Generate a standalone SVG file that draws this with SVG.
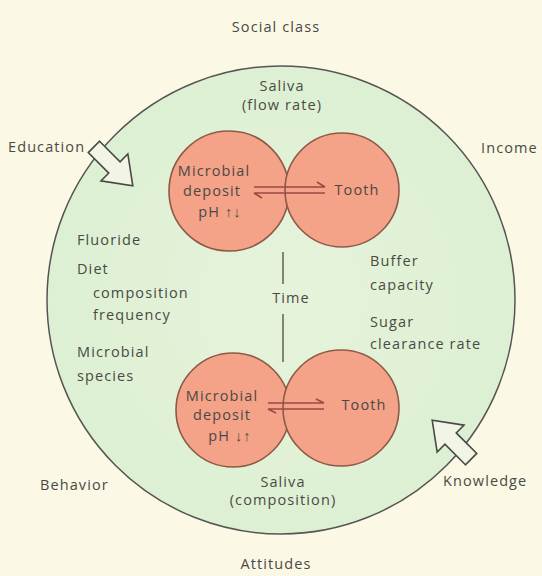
<svg xmlns="http://www.w3.org/2000/svg" width="542" height="576" viewBox="0 0 542 576">
<defs>
<style>
text{font-family:"Open Sans","Noto Sans",sans-serif;font-size:14.5px;letter-spacing:1.1px;fill:#4a4a44}
.c{text-anchor:middle}
.lobe{fill:#f4a288;stroke:#8e5a48;stroke-width:1.6}
.ln{stroke:#4a4a44;stroke-width:1.3;fill:none}
.eq{stroke:#9a4a44;stroke-width:1.6;fill:none}
.harrow{fill:#f2f5e6;stroke:#4a4a44;stroke-width:1.6;stroke-linejoin:miter}
</style>
<radialGradient id="bg" cx="0.5" cy="0.5" r="0.5">
<stop offset="0" stop-color="#e6f3db"/>
<stop offset="1" stop-color="#ddf0d3"/>
</radialGradient>
<path id="ha" d="M-27,-8 L2,-8 L2,-19 L28,0 L2,19 L2,8 L-27,8 Z"/>
</defs>
<rect width="542" height="576" fill="#fbf8e6"/>
<g id="outer">
<circle cx="281" cy="300" r="234" fill="url(#bg)" stroke="#555" stroke-width="1.5"/>
</g>
<g id="connectors">
<line class="ln" x1="283" y1="252" x2="283" y2="284"/>
<line class="ln" x1="283" y1="314" x2="283" y2="362"/>
<use href="#ha" class="harrow" transform="translate(113,166) rotate(45)"/>
<use href="#ha" class="harrow" transform="translate(452,440) rotate(-135)"/>
</g>
<g id="deposit-top">
<circle class="lobe" cx="229" cy="191" r="60"/>
<text class="c" x="214" y="176">Microbial</text>
<text class="c" x="212" y="196">deposit</text>
<text class="c" x="220" y="217">pH ↑↓</text>
</g>
<g id="tooth-top">
<circle class="lobe" cx="342" cy="190" r="57"/>
<text class="c" x="357" y="195">Tooth</text>
</g>
<g id="eq-top">
<path class="eq" d="M254,187 H325 M317,182 L325,187 M254,193 H325 M262,198 L254,193"/>
</g>
<g id="deposit-bottom">
<circle class="lobe" cx="233" cy="410" r="57"/>
<text class="c" x="222" y="401">Microbial</text>
<text class="c" x="222" y="420">deposit</text>
<text class="c" x="230" y="441">pH ↓↑</text>
</g>
<g id="tooth-bottom">
<circle class="lobe" cx="341" cy="408" r="58"/>
<text class="c" x="364" y="410">Tooth</text>
</g>
<g id="eq-bottom">
<path class="eq" d="M268,403 H324 M316,399 L324,403 M268,409 H324 M276,413 L268,409"/>
</g>
<g id="labels">
<text class="c" x="276" y="32">Social class</text>
<text class="c" x="282" y="91">Saliva</text>
<text class="c" x="282" y="110">(flow rate)</text>
<text x="8" y="152">Education</text>
<text x="481" y="153">Income</text>
<text x="77" y="245">Fluoride</text>
<text x="77" y="274">Diet</text>
<text x="93" y="298">composition</text>
<text x="93" y="320">frequency</text>
<text x="77" y="357">Microbial</text>
<text x="77" y="381">species</text>
<text x="370" y="266">Buffer</text>
<text x="370" y="290">capacity</text>
<text x="370" y="327">Sugar</text>
<text x="370" y="349">clearance rate</text>
<text class="c" x="291" y="303">Time</text>
<text class="c" x="283" y="487">Saliva</text>
<text class="c" x="283" y="505">(composition)</text>
<text x="40" y="490">Behavior</text>
<text x="443" y="486">Knowledge</text>
<text class="c" x="276" y="569">Attitudes</text>
</g>
</svg>
